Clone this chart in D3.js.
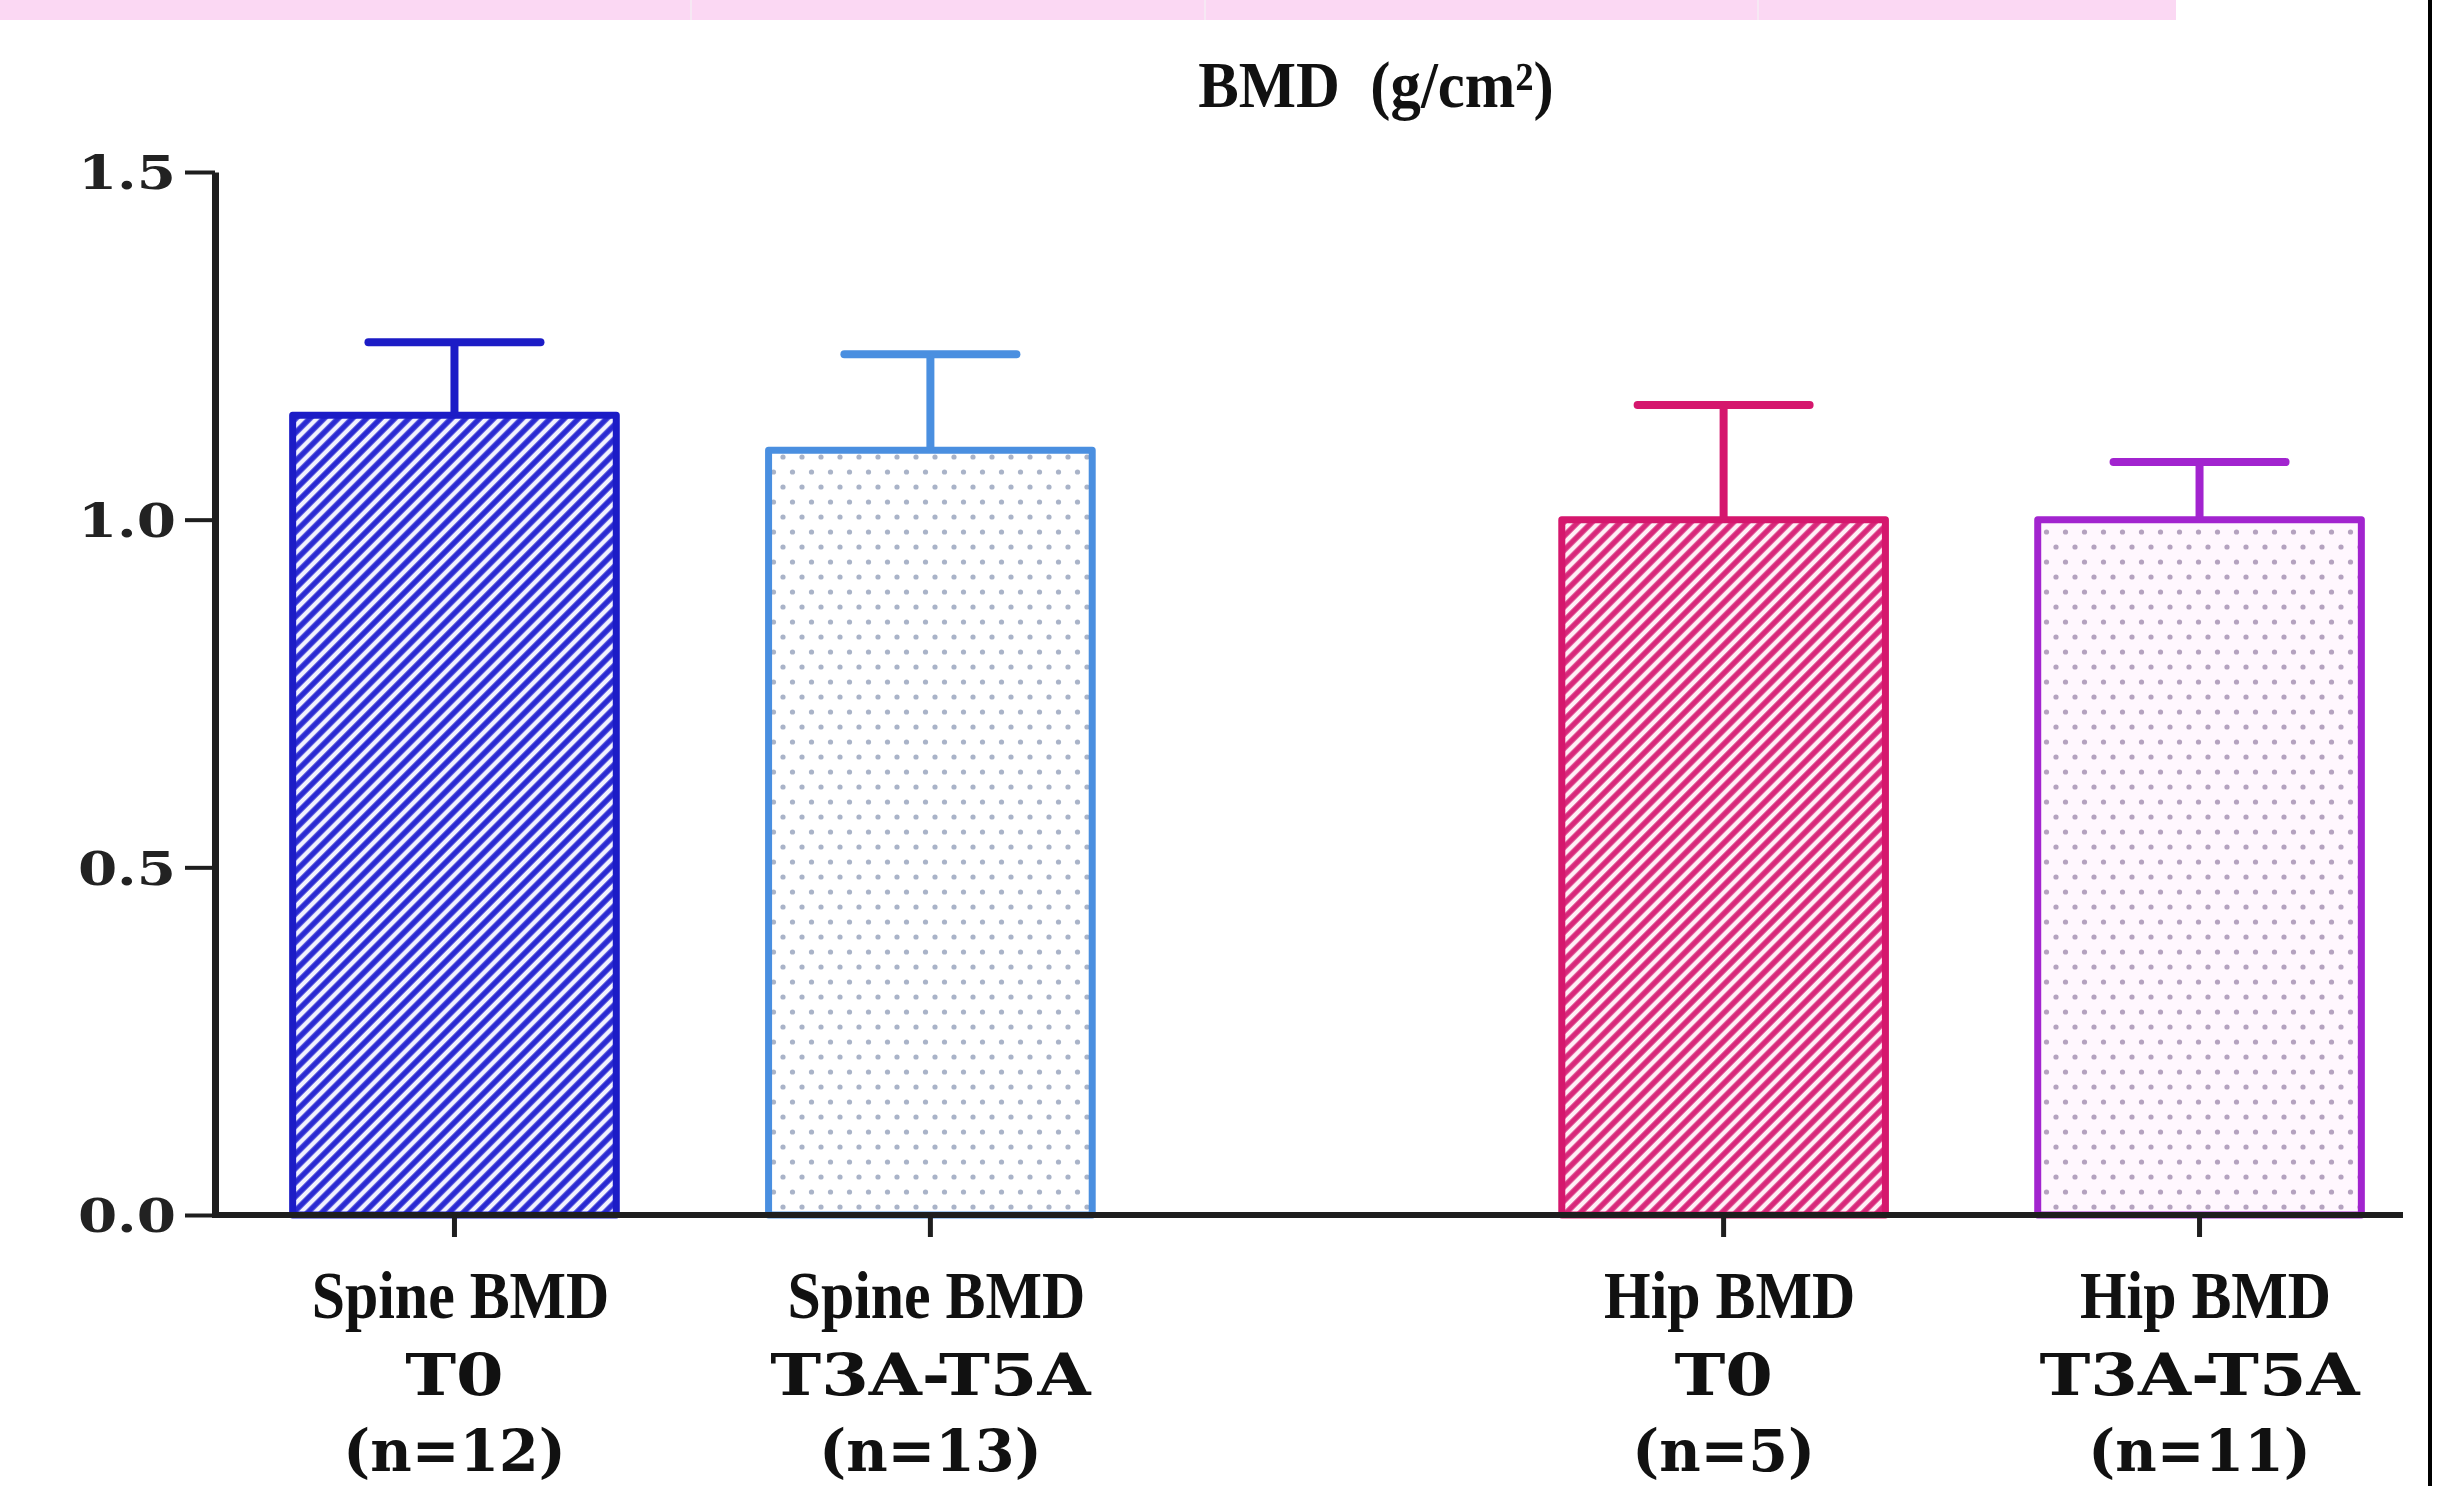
<!DOCTYPE html>
<html>
<head>
<meta charset="utf-8">
<script src="https://cdn.jsdelivr.net/npm/d3@7"></script>
<style>
  html, body { margin: 0; padding: 0; background: #ffffff; }
  svg { display: block; }
</style>
</head>
<body>
<div id="chart"></div>
<script>
// ---------------- data ----------------
const groups = ["Spine BMD", "Hip BMD"];
const periods = ["T0", "T3A-T5A"];
const barGroup = ["Spine BMD", "Spine BMD", "Hip BMD", "Hip BMD"];
const barPeriod = ["T0", "T3A-T5A", "T0", "T3A-T5A"];
const sampleSizes = ["(n=12)", "(n=13)", "(n=5)", "(n=11)"];
const means = [1.15, 1.10, 1.00, 1.00];
const errors = [0.105, 0.138, 0.165, 0.083];
const yTicks = [0.0, 0.5, 1.0, 1.5];
const title = "BMD\u00a0\u00a0(g/cm\u00b2)";

// ---------------- styles ----------------
const strokeColors = ["#1c1cc6", "#4a8fe0", "#d5176d", "#a224cf"];

const W = 2457, H = 1486;
const svg = d3.select("#chart").append("svg")
  .attr("width", W).attr("height", H)
  .attr("viewBox", `0 0 ${W} ${H}`);

// background decoration (pink table band at top, right border)
svg.append("rect").attr("x", 0).attr("y", 0).attr("width", 2176).attr("height", 20).attr("fill", "#fbd8f3");
[691, 1205, 1758].forEach(xv => {
  svg.append("line").attr("x1", xv).attr("x2", xv).attr("y1", 0).attr("y2", 20)
    .attr("stroke", "#f6e8f3").attr("stroke-width", 2);
});
svg.append("line").attr("x1", 2430).attr("x2", 2430).attr("y1", 0).attr("y2", H)
  .attr("stroke", "#000").attr("stroke-width", 4);

// ---------------- scales ----------------
const y = d3.scaleLinear().domain([0, 1.5]).range([1215, 172]);
const xGroup = d3.scaleBand().domain(groups).range([216.5, 2437.5]).paddingInner(0.25).paddingOuter(0);
const xInner = d3.scaleBand().domain(periods).range([0, xGroup.bandwidth()]).paddingInner(0.32).paddingOuter(0.16);
const xLeft = i => xGroup(barGroup[i]) + xInner(barPeriod[i]);
const xCenter = i => xLeft(i) + xInner.bandwidth() / 2;

// ---------------- patterns ----------------
const defs = svg.append("defs");
function hatch(id, color, bg) {
  const p = defs.append("pattern").attr("id", id).attr("patternUnits", "userSpaceOnUse")
    .attr("width", 10).attr("height", 10).attr("patternTransform", "rotate(45)");
  p.append("rect").attr("width", 10).attr("height", 10).attr("fill", bg);
  p.append("line").attr("x1", 5).attr("x2", 5).attr("y1", -2).attr("y2", 12)
    .attr("stroke", color).attr("stroke-width", 5.5);
}
function dots(id, color, bg) {
  const p = defs.append("pattern").attr("id", id).attr("patternUnits", "userSpaceOnUse")
    .attr("width", 19).attr("height", 30);
  p.append("rect").attr("width", 19).attr("height", 30).attr("fill", bg);
  p.append("circle").attr("cx", 4).attr("cy", 7).attr("r", 2.6).attr("fill", color);
  p.append("circle").attr("cx", 13.5).attr("cy", 22).attr("r", 2.6).attr("fill", color);
}
hatch("p0", "#2a2ad2", "#f2f2ff");
dots("p1", "#a9b3c8", "#ffffff");
hatch("p2", "#d8287a", "#fff0f7");
dots("p3", "#b4a2bf", "#fff7fe");

// ---------------- bars ----------------
const idx = d3.range(means.length);
const bars = svg.append("g");
bars.selectAll("rect.bar").data(idx).join("rect")
  .attr("class", "bar")
  .attr("x", i => xLeft(i))
  .attr("y", i => y(means[i]))
  .attr("width", xInner.bandwidth())
  .attr("height", i => y(0) - y(means[i]))
  .attr("fill", (i) => `url(#p${i})`)
  .attr("stroke", i => strokeColors[i])
  .attr("stroke-width", 7)
  .attr("stroke-linejoin", "round");

// error bars (upper only)
const capHalf = 86;
bars.selectAll("line.stem").data(idx).join("line")
  .attr("class", "stem")
  .attr("x1", i => xCenter(i)).attr("x2", i => xCenter(i))
  .attr("y1", i => y(means[i])).attr("y2", i => y(means[i] + errors[i]))
  .attr("stroke", i => strokeColors[i]).attr("stroke-width", 8);
bars.selectAll("line.cap").data(idx).join("line")
  .attr("class", "cap")
  .attr("x1", i => xCenter(i) - capHalf).attr("x2", i => xCenter(i) + capHalf)
  .attr("y1", i => y(means[i] + errors[i])).attr("y2", i => y(means[i] + errors[i]))
  .attr("stroke", i => strokeColors[i]).attr("stroke-width", 8).attr("stroke-linecap", "round");

// ---------------- y axis ----------------
const yAxis = svg.append("g").attr("transform", "translate(215,0)")
  .call(d3.axisLeft(y).tickValues(yTicks).tickFormat(d3.format(".1f")).tickSize(30).tickSizeOuter(0));
yAxis.select(".domain").attr("stroke", "#1e1e1e").attr("stroke-width", 7);
yAxis.selectAll(".tick line").attr("stroke", "#1e1e1e").attr("stroke-width", 4);
yAxis.selectAll(".tick text")
  .attr("x", 0).attr("dy", "0.36em")
  .attr("transform", "translate(-39,0) scale(1.2,1)")
  .attr("text-anchor", "end")
  .attr("font-family", "DejaVu Serif").attr("font-weight", "bold").attr("font-size", 47)
  .attr("fill", "#222");

// ---------------- x axis ----------------
const xAxisG = svg.append("g");
xAxisG.append("line").attr("x1", 212).attr("x2", 2403).attr("y1", y(0)).attr("y2", y(0))
  .attr("stroke", "#1e1e1e").attr("stroke-width", 6);
xAxisG.selectAll("line.xt").data(idx).join("line")
  .attr("class", "xt")
  .attr("x1", i => xCenter(i)).attr("x2", i => xCenter(i))
  .attr("y1", y(0)).attr("y2", y(0) + 22)
  .attr("stroke", "#1e1e1e").attr("stroke-width", 5);

const lab = xAxisG.selectAll("g.lab").data(idx).join("g").attr("class", "lab")
  .attr("transform", i => `translate(${xCenter(i)},0)`);
lab.append("text")
  .attr("transform", "translate(6,1318) scale(0.88,1)").attr("text-anchor", "middle")
  .attr("font-family", "Liberation Serif").attr("font-weight", "bold").attr("font-size", 68)
  .attr("fill", "#111")
  .text(i => barGroup[i]);
lab.append("text")
  .attr("transform", "translate(0,1395) scale(1.2,1)").attr("text-anchor", "middle")
  .attr("font-family", "DejaVu Serif").attr("font-weight", "bold").attr("font-size", 57)
  .attr("fill", "#111")
  .text(i => barPeriod[i]);
lab.append("text")
  .attr("transform", "translate(0,1471) scale(1.0,1)").attr("text-anchor", "middle")
  .attr("font-family", "DejaVu Serif").attr("font-weight", "bold").attr("font-size", 57)
  .attr("fill", "#111")
  .text(i => sampleSizes[i]);

// ---------------- title ----------------
svg.append("text")
  .attr("transform", "translate(1376,107) scale(0.92,1)").attr("text-anchor", "middle")
  .attr("font-family", "Liberation Serif").attr("font-weight", "bold").attr("font-size", 66)
  .attr("fill", "#111")
  .text(title);
</script>
</body>
</html>
